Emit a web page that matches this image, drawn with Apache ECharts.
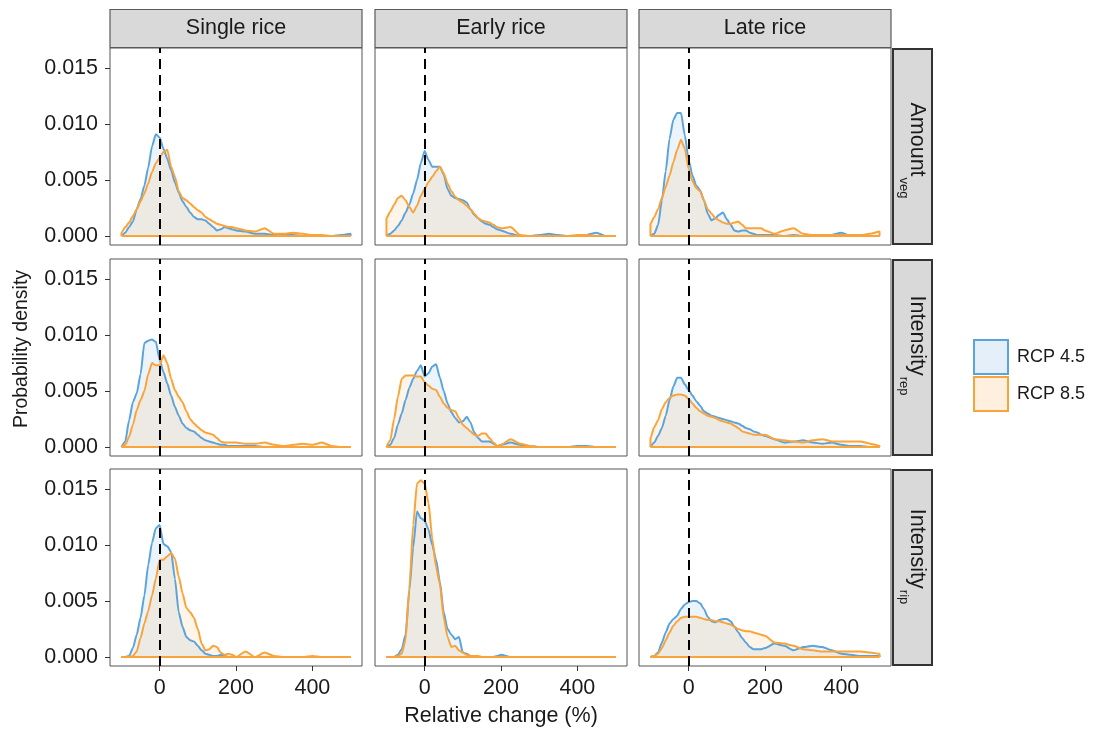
<!DOCTYPE html>
<html><head><meta charset="utf-8">
<script src="https://cdn.jsdelivr.net/npm/echarts@6/dist/echarts.min.js"></script>
<style>html,body{margin:0;padding:0;background:#fff}#c{width:1097px;height:729px}</style>
</head><body><div id="c"></div>
<script>
// ---------- data ----------
const crops = ['Single rice', 'Early rice', 'Late rice'];
const rowMain = ['Amount', 'Intensity', 'Intensity'];
const rowSub = ['veg', 'rep', 'rip'];
const scenarios = ['RCP 4.5', 'RCP 8.5'];
const xTicks = [0, 200, 400];
const yTicks = [0, 0.005, 0.010, 0.015];
const xs = [-100,-90,-80,-70,-60,-50,-40,-30,-20,-10,0,10,20,30,40,50,60,70,80,90,100,110,120,130,140,150,160,170,180,190,200,225,250,275,300,325,350,375,400,425,450,475,500];

const singleAmount45 = [0,.0003,.0008,.0013,.0024,.0033,.0045,.0061,.0080,.0091,.0088,.0078,.0069,.0059,.0048,.0039,.0031,.0026,.0021,.0017,.0015,.0015,.0014,.0011,.0008,.0005,.0006,.0008,.0007,.0006,.0005,.0004,.0002,.0002,.0001,.0001,.0001,0,.0001,0,0,.0001,.0002];
const singleAmount85 = [.0003,.0008,.0012,.0018,.0024,.0031,.0038,.0047,.0057,.0065,.0070,.0075,.0077,.0062,.0053,.0040,.0034,.0032,.0029,.0026,.0023,.0021,.0017,.0015,.0013,.0011,.0010,.0009,.0008,.0008,.0007,.0005,.0004,.0007,.0002,.0002,.0003,.0002,.0001,.0001,0,0,0];
const earlyAmount45 = [0,.0002,.0005,.0009,.0014,.0021,.0028,.0038,.0050,.0065,.0076,.0068,.0062,.0062,.0062,.0055,.0042,.0036,.0034,.0033,.0032,.0030,.0024,.0019,.0016,.0013,.0011,.0010,.0008,.0006,.0005,.0002,0,0,.0001,.0002,.0001,0,0,.0001,.0003,0,0];
const earlyAmount85 = [.0016,.0022,.0028,.0034,.0036,.0032,.0026,.0021,.0027,.0036,.0042,.0048,.0053,.0058,.0062,.0056,.0047,.0040,.0035,.0032,.0030,.0027,.0024,.0020,.0016,.0014,.0013,.0012,.0010,.0008,.0007,.0008,.0001,0,0,0,0,0,.0001,.0001,0,0,0];
const lateAmount45 = [0,.0002,.0010,.0032,.0058,.0087,.0104,.0110,.0110,.0090,.0068,.0054,.0045,.0041,.0032,.0020,.0014,.0016,.0019,.0021,.0015,.0010,.0005,.0004,.0005,.0005,.0003,.0002,.0001,.0001,.0001,.0001,0,.0001,0,0,0,.0001,.0003,0,0,0,0];
const lateAmount85 = [.0011,.0017,.0024,.0034,.0044,.0054,.0066,.0077,.0086,.0078,.0060,.0049,.0043,.0040,.0032,.0024,.0020,.0016,.0014,.0012,.0011,.0011,.0012,.0013,.0010,.0007,.0007,.0007,.0007,.0007,.0005,.0002,.0005,.0007,.0002,.0001,.0001,.0001,.0001,.0001,.0001,.0002,.0004];
const singleRep45 = [0,.0005,.0024,.0040,.0048,.0065,.0093,.0095,.0096,.0094,.0078,.0067,.0057,.0046,.0036,.0028,.0021,.0017,.0015,.0014,.0011,.0008,.0006,.0005,.0004,.0003,.0002,.0002,.0001,.0001,.0001,.0001,.0001,0,0,0,0,0,0,0,0,0,0];
const singleRep85 = [0,.0002,.0009,.0020,.0033,.0042,.0050,.0065,.0075,.0073,.0073,.0082,.0075,.0061,.0051,.0045,.0040,.0032,.0025,.0021,.0018,.0015,.0013,.0012,.0011,.0008,.0005,.0004,.0004,.0004,.0004,.0003,.0003,.0004,.0002,.0001,.0002,.0003,.0002,.0004,.0001,0,0];
const earlyRep45 = [0,.0002,.0008,.0020,.0030,.0042,.0053,.0061,.0068,.0073,.0063,.0066,.0072,.0074,.0062,.0050,.0039,.0031,.0026,.0022,.0023,.0027,.0022,.0013,.0008,.0005,.0005,.0005,.0003,.0001,.0002,.0004,.0002,.0001,0,0,0,0,.0001,.0001,0,0,0];
const earlyRep85 = [0,.0006,.0025,.0045,.0061,.0064,.0064,.0064,.0063,.0063,.0058,.0055,.0052,.0051,.0045,.0039,.0035,.0033,.0032,.0026,.0020,.0017,.0014,.0011,.0010,.0012,.0012,.0008,.0004,.0001,.0002,.0007,.0003,.0001,0,0,0,0,0,0,0,0,0];
const lateRep45 = [0,.0004,.0010,.0017,.0028,.0042,.0054,.0062,.0062,.0056,.0051,.0046,.0041,.0037,.0032,.0030,.0028,.0027,.0026,.0025,.0024,.0023,.0022,.0021,.0019,.0017,.0016,.0014,.0013,.0011,.0010,.0007,.0004,.0005,.0006,.0004,.0003,.0004,.0002,.0001,.0001,0,0];
const lateRep85 = [.0008,.0018,.0024,.0034,.0040,.0044,.0046,.0047,.0047,.0046,.0043,.0039,.0035,.0032,.0030,.0028,.0027,.0026,.0024,.0023,.0022,.0021,.0019,.0017,.0014,.0013,.0012,.0011,.0011,.0011,.0011,.0007,.0006,.0005,.0004,.0006,.0007,.0005,.0005,.0005,.0005,.0003,.0001];
const singleRip45 = [0,0,.0001,.0008,.0020,.0035,.0055,.0082,.0102,.0115,.0118,.0101,.0099,.0094,.0070,.0040,.0027,.0018,.0015,.0014,.0010,.0006,.0003,.0002,.0001,.0001,.0002,.0001,0,0,0,0,0,0,0,0,0,0,0,0,0,0,0];
const singleRip85 = [0,0,0,.0001,.0005,.0017,.0030,.0041,.0055,.0070,.0087,.0087,.0090,.0093,.0088,.0072,.0057,.0044,.0040,.0035,.0025,.0012,.0006,.0007,.0010,.0009,.0004,.0002,.0003,.0002,0,.0005,0,.0004,.0001,0,0,0,.0001,0,0,0,0];
const earlyRip45 = [0,0,0,.0002,.0007,.0020,.0060,.0098,.0130,.0124,.0122,.0114,.0100,.0087,.0067,.0040,.0025,.0020,.0016,.0018,.0004,.0003,.0001,0,0,0,0,0,0,.0001,.0002,0,0,0,0,0,0,0,0,0,0,0,0];
const earlyRip85 = [0,0,0,.0001,.0003,.0015,.0062,.0118,.0155,.0158,.0155,.0138,.0106,.0080,.0065,.0035,.0018,.0009,.0010,.0006,.0004,.0002,.0001,.0001,.0001,0,0,0,0,0,0,0,0,0,0,0,0,0,0,0,0,0,0];
const lateRip45 = [0,.0001,.0004,.0013,.0022,.0030,.0034,.0037,.0043,.0047,.0049,.0050,.0050,.0048,.0043,.0036,.0032,.0031,.0033,.0034,.0034,.0032,.0027,.0022,.0017,.0013,.0009,.0007,.0007,.0007,.0008,.0012,.0010,.0006,.0009,.0010,.0009,.0006,.0003,.0002,.0001,.0001,.0001];
const lateRip85 = [0,.0001,.0003,.0008,.0015,.0022,.0028,.0032,.0035,.0036,.0036,.0036,.0036,.0035,.0034,.0033,.0033,.0032,.0032,.0031,.0030,.0029,.0027,.0025,.0024,.0023,.0023,.0022,.0021,.0020,.0019,.0013,.0012,.0010,.0007,.0006,.0005,.0005,.0005,.0005,.0005,.0004,.0003];

const panelData = [
  [[singleAmount45, singleAmount85], [earlyAmount45, earlyAmount85], [lateAmount45, lateAmount85]],
  [[singleRep45, singleRep85], [earlyRep45, earlyRep85], [lateRep45, lateRep85]],
  [[singleRip45, singleRip85], [earlyRip45, earlyRip85], [lateRip45, lateRip85]]
];

// ---------- layout & style ----------
const FONT = '"Liberation Sans", Arial, Helvetica, sans-serif';
const TXT = '#1a1a1a';
const lineColors = ['#5CA3DC', '#F9A33B'];
const fillColors = ['rgba(92,163,220,0.17)', 'rgba(249,163,59,0.17)'];
const colLeft = [110, 375, 639], colW = 252;
const rowTop = [48, 259, 469], rowH = 197;
const xMin = -130, xMax = 530, yMin = -0.0008, yMax = 0.0168;

const ctx = document.createElement('canvas').getContext('2d');
function textW(t, size) { ctx.font = size + 'px ' + FONT; return ctx.measureText(t).width; }

const grids = [], xAxes = [], yAxes = [], series = [], graphics = [];
for (let r = 0; r < 3; r++) {
  for (let c = 0; c < 3; c++) {
    const gi = r * 3 + c;
    grids.push({left: colLeft[c], top: rowTop[r], width: colW, height: rowH, show: true,
      borderColor: '#555', borderWidth: 1, backgroundColor: 'transparent'});
    xAxes.push({type: 'value', gridIndex: gi, min: xMin, max: xMax, position: 'bottom',
      axisLine: {show: false, onZero: false}, splitLine: {show: false},
      axisTick: {show: r === 2, length: 5, customValues: xTicks, lineStyle: {color: '#333', width: 1}},
      axisLabel: {show: r === 2, customValues: xTicks, margin: 11, fontSize: 21.5, color: TXT, fontFamily: FONT}});
    yAxes.push({type: 'value', gridIndex: gi, min: yMin, max: yMax, position: 'left',
      axisLine: {show: false, onZero: false}, splitLine: {show: false},
      axisTick: {show: c === 0, length: 5, customValues: yTicks, lineStyle: {color: '#333', width: 1}},
      axisLabel: {show: c === 0, customValues: yTicks, margin: 12, fontSize: 21.5, color: TXT, fontFamily: FONT,
        formatter: v => v.toFixed(3)}});
    for (let s = 0; s < 2; s++) {
      const vals = panelData[r][c][s];
      const data = [[xs[0], 0]].concat(xs.map((x, k) => [x, vals[k]])).concat([[xs[xs.length - 1], 0]]);
      const ser = {
        type: 'line', name: scenarios[s], xAxisIndex: gi, yAxisIndex: gi, data: data,
        showSymbol: false, symbol: 'none', smooth: 0.2, smoothMonotone: 'x', silent: true,
        lineStyle: {color: lineColors[s], width: 2}, itemStyle: {color: lineColors[s]},
        areaStyle: {color: fillColors[s], origin: 0}, emphasis: {disabled: true}, animation: false
      };
      if (s === 1) {
        ser.markLine = {
          silent: true, symbol: ['none', 'none'], animation: false, label: {show: false},
          data: [
            [{coord: [xs[0], 0], lineStyle: {color: lineColors[1], width: 2, type: 'solid'}},
             {coord: [xs[xs.length - 1], 0]}],
            {xAxis: 0, lineStyle: {color: '#000', width: 2, type: [10, 6]}}
          ]
        };
      }
      series.push(ser);
    }
  }
}

// top strips
for (let c = 0; c < 3; c++) {
  graphics.push({type: 'rect', shape: {x: colLeft[c], y: 9.5, width: colW, height: 38},
    style: {fill: '#d9d9d9', stroke: '#5a5a5a', lineWidth: 1.2}, z: 10});
  graphics.push({type: 'text', x: colLeft[c] + colW / 2, y: 28.5, z: 11,
    style: {text: crops[c], fontSize: 21.5, fontFamily: FONT, fill: TXT, align: 'center', verticalAlign: 'middle'}});
}
// right strips
const labelShift = [4, -12, -11];
for (let r = 0; r < 3; r++) {
  graphics.push({type: 'rect', shape: {x: 893, y: rowTop[r] + 1, width: 39, height: rowH - 2},
    style: {fill: '#d9d9d9', stroke: '#333', lineWidth: 2}, z: 10});
  const mw = textW(rowMain[r], 21.5), sw = textW(rowSub[r], 13);
  const start = -(mw + 1 + sw) / 2;
  graphics.push({type: 'group', x: 912.5, y: rowTop[r] + rowH / 2 + labelShift[r], rotation: -Math.PI / 2, z: 11,
    children: [
      {type: 'text', z: 11, style: {text: rowMain[r], x: start, y: -4, fontSize: 21.5, fontFamily: FONT, fill: TXT, align: 'left', verticalAlign: 'middle'}},
      {type: 'text', z: 11, style: {text: rowSub[r], x: start + mw + 1, y: 9, fontSize: 13, fontFamily: FONT, fill: TXT, align: 'left', verticalAlign: 'middle'}}
    ]});
}
// axis titles
graphics.push({type: 'text', x: 501, y: 716, style: {text: 'Relative change (%)', fontSize: 21.5, fontFamily: FONT, fill: TXT, align: 'center', verticalAlign: 'middle'}});
graphics.push({type: 'text', x: 22, y: 349, rotation: Math.PI / 2, style: {text: 'Probability density', fontSize: 19.5, fontFamily: FONT, fill: TXT, align: 'center', verticalAlign: 'middle'}});

const chart = echarts.init(document.getElementById('c'), null, {renderer: 'canvas'});
chart.setOption({
  animation: false,
  backgroundColor: '#fff',
  grid: grids, xAxis: xAxes, yAxis: yAxes, series: series, graphic: graphics,
  legend: {
    orient: 'vertical', left: 968, top: 334, itemWidth: 34, itemHeight: 34, itemGap: 1,
    icon: 'rect', selectedMode: false,
    textStyle: {fontSize: 18, fontFamily: FONT, color: TXT, padding: [0, 0, 0, 4]},
    data: [
      {name: scenarios[0], itemStyle: {color: fillColors[0], borderColor: lineColors[0], borderWidth: 2}},
      {name: scenarios[1], itemStyle: {color: fillColors[1], borderColor: lineColors[1], borderWidth: 2}}
    ]
  }
});
</script></body></html>
